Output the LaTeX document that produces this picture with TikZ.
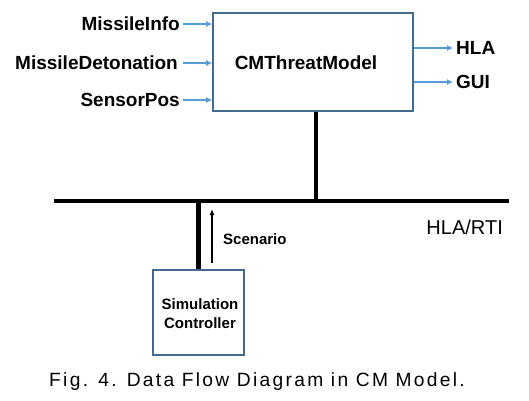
\documentclass[tikz,border=0pt]{standalone}
\usepackage{fontspec}
\setmainfont{Liberation Sans}
\newfontfamily\capfont[LetterSpace=12]{Liberation Sans}
\usetikzlibrary{arrows.meta}
\definecolor{boxblue}{RGB}{70,105,140}
\definecolor{arrblue}{RGB}{91,155,213}
\begin{document}
\begin{tikzpicture}[x=1pt,y=-1pt,
  lbl/.style={font=\fontsize{19}{21}\selectfont\bfseries, inner sep=0pt},
  smalllbl/.style={font=\fontsize{15}{19}\selectfont\bfseries, inner sep=0pt, align=center},
  blockbox/.style={draw=boxblue, line width=1.6pt, fill=white, inner sep=0pt},
  barrow/.style={draw=arrblue, line width=1.6pt, -{Latex[length=6pt,width=6pt]}},
  bus/.style={draw=black, line width=4.5pt},
  sarrow/.style={draw=black, line width=1.4pt, -{Latex[length=6pt,width=5pt]}}]
\useasboundingbox (0,0) rectangle (529,400);

% main box
\node[blockbox, minimum width=200pt, minimum height=98pt] (cm) at (313,62) {};
\node[lbl] (cmt) at (306,63) {CMThreatModel};

% inputs
\node[lbl, anchor=east] (mi) at (180,24) {MissileInfo};
\node[lbl, anchor=east] (md) at (178,63) {MissileDetonation};
\node[lbl, anchor=east] (sp) at (180,100) {SensorPos};
\draw[barrow] ([xshift=3pt]mi.east) -- (mi.east -| cm.west);
\draw[barrow] ([xshift=5pt]md.east) -- (md.east -| cm.west);
\draw[barrow] ([xshift=3pt]sp.east) -- (sp.east -| cm.west);

% outputs
\node[lbl, anchor=west] (hla) at (456,48) {HLA};
\node[lbl, anchor=west] (gui) at (456,82) {GUI};
\draw[barrow] (cm.east |- hla.west) -- ([xshift=-3pt]hla.west);
\draw[barrow] (cm.east |- gui.west) -- ([xshift=-3pt]gui.west);

% bus
\coordinate (busL) at (54,201);
\coordinate (busR) at (509,201);
\draw[bus] (busL) -- (busR);
\draw[bus] ([xshift=3pt]cm.south) -- ([xshift=3pt]cm.south |- busL);
\node[font=\fontsize{20}{22}\selectfont, inner sep=0pt, anchor=east] (rti) at (503,227) {HLA/RTI};

% simulation controller
\node[blockbox, minimum width=91pt, minimum height=85pt] (sc) at (198.5,312.5) {};
\node[smalllbl] (sct) at (200,313.5) {Simulation\\Controller};
\draw[bus] (sc.north) -- (sc.north |- busL);
\coordinate (scA) at (212,263);
\coordinate (scB) at (212,209);
\draw[sarrow] (scA) -- (scB);
\node[font=\fontsize{15}{17}\selectfont\bfseries, inner sep=0pt, anchor=west] (scn) at (223,239) {Scenario};

% caption
\node[inner sep=0pt] (cap) at (257,382) {\capfont\fontsize{19.2}{21}\selectfont Fig. 4. Data Flow Diagram in CM Model.};
\end{tikzpicture}
\end{document}
